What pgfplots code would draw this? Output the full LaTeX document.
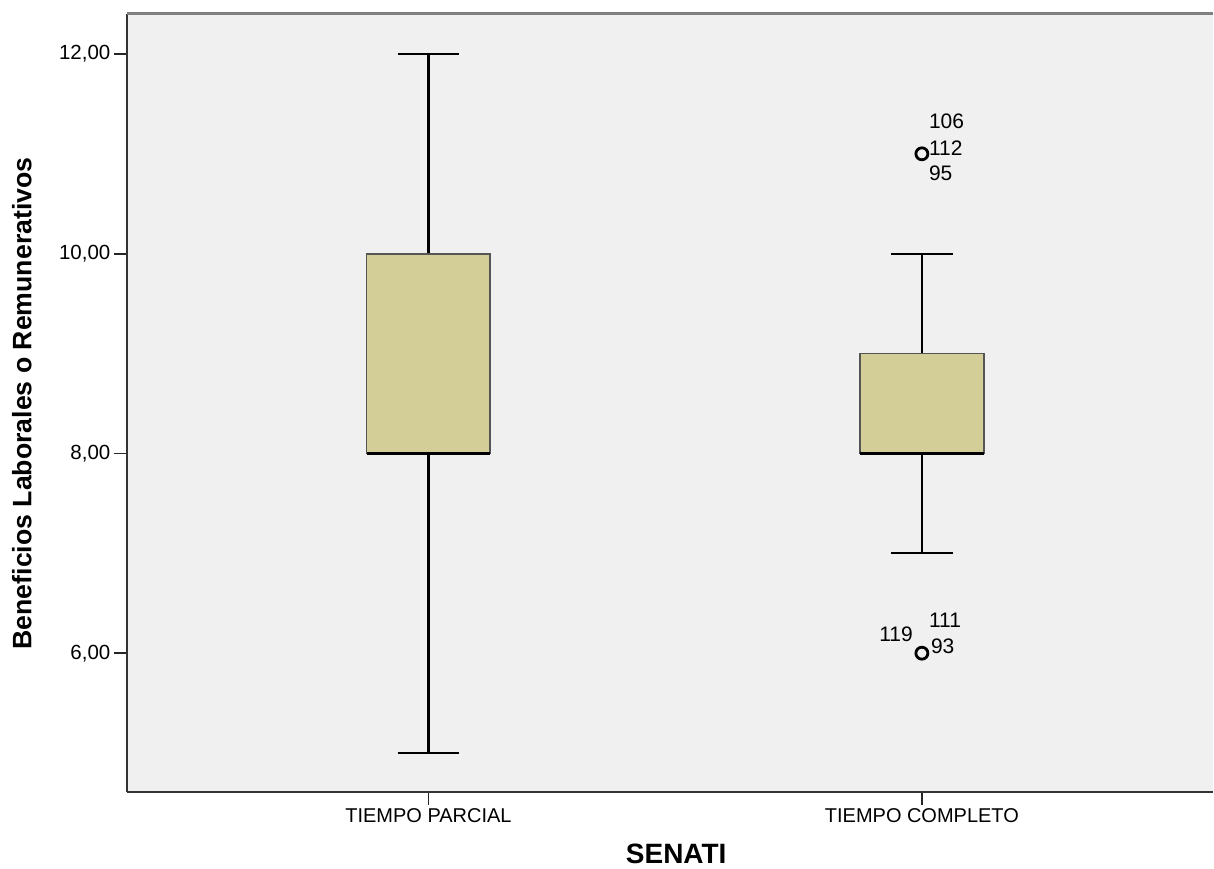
\documentclass[border=0pt]{standalone}
\usepackage{pgfplots}
\pgfplotsset{compat=1.18}
\usepgfplotslibrary{statistics}
\usepackage{fontspec}
\setmainfont{Liberation Sans}
\definecolor{bg}{HTML}{F0F0F0}
\definecolor{boxfill}{HTML}{D3CE98}
\definecolor{boxedge}{HTML}{555555}
\begin{document}
\begin{tikzpicture}
\begin{axis}[
  scale only axis,
  width=1087pt, height=779pt,
  xmin=-0.6113, xmax=1.589,
  ymin=4.61, ymax=12.40,
  axis background/.style={fill=bg},
  axis x line*=bottom, axis y line*=left,
  axis line style={line width=2pt, black!80},
  xtick={0,1}, xticklabels={TIEMPO PARCIAL, TIEMPO COMPLETO},
  ytick={6,8,10,12},
  tick align=outside,
  major tick length=13pt,
  tick style={line width=1.8pt, black!85},
  /pgf/number format/.cd, fixed, fixed zerofill, precision=2, use comma, assume math mode=true,
  /pgfplots/.cd,
  ticklabel style={font=\fontsize{20}{22}\selectfont, text=black},
  yticklabel style={font=\fontsize{20.5}{22}\selectfont},
  xlabel={SENATI},
  ylabel={Beneficios Laborales o Remunerativos},
  xlabel style={at={(axis description cs:0.506,-0.0795)}, anchor=center, font=\fontsize{28}{30}\selectfont\bfseries},
  ylabel style={at={(axis description cs:-0.0966,0.4994)}, anchor=center, rotate=0, font=\fontsize{26.7}{30}\selectfont\bfseries},
  boxplot/draw direction=y,
  boxplot/box extend=0.251,
  boxplot/whisker extend=0.125,
  clip=false,
]
\addplot+[
  black, solid, line width=2.2pt,
  mark=none,
  boxplot prepared={lower whisker=5, lower quartile=8, median=8, upper quartile=10, upper whisker=12, draw position=0},
  boxplot/every box/.style={fill=boxfill, draw=boxedge, line width=1.8pt},
  boxplot/every median/.style={black, line width=3.4pt},
] coordinates {};
\addplot+[
  black, solid, line width=2.2pt,
  mark=o, mark size=6pt, mark options={line width=2.8pt, black, solid},
  boxplot prepared={lower whisker=7, lower quartile=8, median=8, upper quartile=9, upper whisker=10, draw position=1},
  boxplot/every box/.style={fill=boxfill, draw=boxedge, line width=1.8pt},
  boxplot/every median/.style={black, line width=3.4pt},
] coordinates {(1,11) (1,6)};
\path[draw=gray, line width=3pt] (rel axis cs:0,1) -- (rel axis cs:1,1);
\begin{scope}[every node/.style={font=\fontsize{21}{23}\selectfont, text=black, inner sep=0pt}]
\node[anchor=west] at ([xshift=7pt,yshift=33pt]axis cs:1,11) {106};
\node[anchor=west] at ([xshift=7pt,yshift=6pt]axis cs:1,11) {112};
\node[anchor=west] at ([xshift=7pt,yshift=-19pt]axis cs:1,11) {95};
\node[anchor=west] at ([xshift=7pt,yshift=33pt]axis cs:1,6) {111};
\node[anchor=west] at ([xshift=9pt,yshift=7pt]axis cs:1,6) {93};
\node[anchor=east] at ([xshift=-9pt,yshift=19pt]axis cs:1,6) {119};
\end{scope}
\end{axis}
\path[use as bounding box] (-127pt,-77pt) rectangle (1087pt,793pt);
\end{tikzpicture}
\end{document}
